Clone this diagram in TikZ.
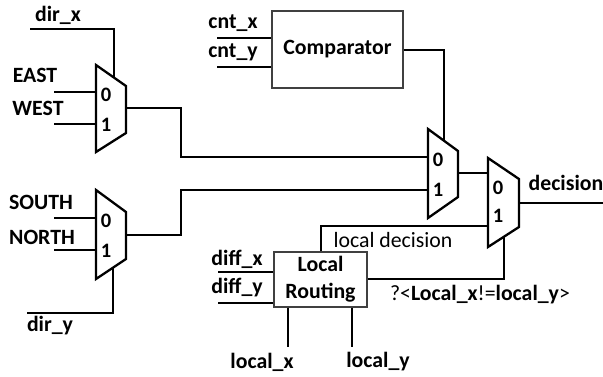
\documentclass[tikz,border=0pt]{standalone}
\usepackage{fontspec}
\setmainfont{Carlito}
\begin{document}
\begin{tikzpicture}[x=1pt,y=-1pt,
  wire/.style={line width=2.3pt,line cap=butt},
  muxshape/.style={line width=2.3pt,line join=miter},
  blk/.style={draw=black!75,line width=1.3pt,inner sep=0,align=center,font=\fontsize{21.8}{27}\selectfont\bfseries},
  lbl/.style={inner sep=0,font=\fontsize{21.8}{24}\selectfont\bfseries},
  dig/.style={inner sep=0,font=\fontsize{20.5}{24}\selectfont\bfseries},
  nlbl/.style={inner sep=0,font=\fontsize{21.8}{24}\selectfont}]
\useasboundingbox (0,0) rectangle (603,376);

% ---------- mux 1 (EAST/WEST)
\coordinate (m1a) at (96,65);  \coordinate (m1b) at (126,86);
\coordinate (m1c) at (126,133); \coordinate (m1d) at (96,152);
\draw[muxshape] (m1a) -- (m1b) -- (m1c) -- (m1d) -- cycle;
\node[dig] (m1z) at (106,95) {0};
\node[dig] (m1o) at (106,125) {1};
\coordinate (m1i0) at (96,92); \coordinate (m1i1) at (96,124);
\coordinate (m1s) at (114,77.6); \coordinate (m1out) at (126,108);

% ---------- mux 2 (SOUTH/NORTH)
\coordinate (m2a) at (96,190);  \coordinate (m2b) at (126,212);
\coordinate (m2c) at (126,259); \coordinate (m2d) at (96,279);
\draw[muxshape] (m2a) -- (m2b) -- (m2c) -- (m2d) -- cycle;
\node[dig] (m2z) at (106,221) {0};
\node[dig] (m2o) at (106,251) {1};
\coordinate (m2i0) at (96,218); \coordinate (m2i1) at (96,250);
\coordinate (m2s) at (113,267.7); \coordinate (m2out) at (126,235);

% ---------- mux 3
\coordinate (m3a) at (428,129);  \coordinate (m3b) at (458,151);
\coordinate (m3c) at (458,197); \coordinate (m3d) at (428,218);
\draw[muxshape] (m3a) -- (m3b) -- (m3c) -- (m3d) -- cycle;
\node[dig] (m3z) at (438,160) {0};
\node[dig] (m3o) at (438,190) {1};
\coordinate (m3i0) at (428,157); \coordinate (m3i1) at (428,190);
\coordinate (m3s) at (444,140.7); \coordinate (m3out) at (458,173);

% ---------- mux 4
\coordinate (m4a) at (488,158);  \coordinate (m4b) at (519,179);
\coordinate (m4c) at (519,227); \coordinate (m4d) at (488,247);
\draw[muxshape] (m4a) -- (m4b) -- (m4c) -- (m4d) -- cycle;
\node[dig] (m4z) at (498,188) {0};
\node[dig] (m4o) at (498,216) {1};
\coordinate (m4i0) at (488,173); \coordinate (m4i1) at (488,226);
\coordinate (m4s) at (504,236.7); \coordinate (m4out) at (519,203);

% ---------- blocks
\node[blk,minimum width=131pt,minimum height=77pt] (cmp) at (337.5,49.5) {Comparator};
\node[blk,minimum width=93pt,minimum height=55pt] (lr) at (320.5,279.5) {Local\\Routing};

% ---------- free ends
\coordinate (dirx) at (30,29);
\coordinate (east) at (54,92);
\coordinate (west) at (54,124);
\coordinate (south) at (54,218);
\coordinate (north) at (54,250);
\coordinate (diry) at (27,313);
\coordinate (cntx) at (217,38);
\coordinate (cnty) at (217,67);
\coordinate (diffx) at (218,272);
\coordinate (diffy) at (218,303);
\coordinate (locx) at (288,347);
\coordinate (locy) at (352,347);
\coordinate (dec) at (603,203);

% ---------- wires
\draw[wire] (dirx) -| (m1s);
\draw[wire] (east) -- (m1i0);
\draw[wire] (west) -- (m1i1);
\draw[wire] (south) -- (m2i0);
\draw[wire] (north) -- (m2i1);
\draw[wire] (diry) -| (m2s);
\draw[wire] (m1out) -- (181,108) |- (m3i0);
\draw[wire] (m2out) -- (181,235) |- (m3i1);
\draw[wire] (cntx) -- (cmp.west |- cntx);
\draw[wire] (cnty) -- (cmp.west |- cnty);
\draw[wire] (cmp.east |- 0,50) -| (m3s);
\draw[wire] (m3out) -- (m4i0);
\draw[wire] (m4out) -- (dec);
\draw[wire] (lr.north -| 321,0) |- (m4i1);
\draw[wire] (lr.east |- 0,279) -| (m4s);
\draw[wire] (diffx) -- (lr.west |- diffx);
\draw[wire] (diffy) -- (lr.west |- diffy);
\draw[wire] (lr.south -| locx) -- (locx);
\draw[wire] (lr.south -| locy) -- (locy);

% ---------- labels
\node[lbl] (tdirx) at (58,15) {dir\_x};
\node[lbl] (teast) at (35,75) {EAST};
\node[lbl] (twest) at (38,108) {WEST};
\node[lbl] (tsouth) at (41,202) {SOUTH};
\node[lbl] (tnorth) at (42,237) {NORTH};
\node[lbl] (tdiry) at (50,326) {dir\_y};
\node[lbl] (tcntx) at (233,23) {cnt\_x};
\node[lbl] (tcnty) at (233,52) {cnt\_y};
\node[lbl] (tdiffx) at (237,259) {diff\_x};
\node[lbl] (tdiffy) at (237,288) {diff\_y};
\node[lbl] (tlocx) at (262,362) {local\_x};
\node[lbl] (tlocy) at (378,362) {local\_y};
\node[lbl] (tdec) at (566,183) {decision};
\node[nlbl] (tld) at (393,240) {local decision};
\node[nlbl] (tcond) at (480,295) {?<\textbf{Local\_x}!=\textbf{local\_y}>};
\end{tikzpicture}
\end{document}
